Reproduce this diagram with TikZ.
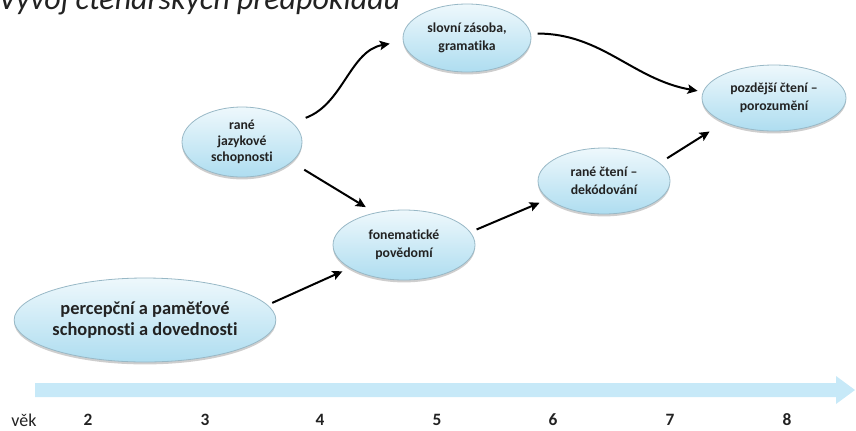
\documentclass[tikz,border=0pt]{standalone}
\usepackage{fontspec}
\setmainfont{Carlito}[Ligatures=NoCommon]
\usetikzlibrary{shapes.geometric,shadows,arrows.meta}
\definecolor{bubtop}{HTML}{EEF8FC}
\definecolor{bubbot}{HTML}{AEDDF0}
\definecolor{bubrim}{HTML}{98B8C6}
\definecolor{txt}{HTML}{222222}
\definecolor{axisc}{HTML}{C7E9F8}
\begin{document}
\begin{tikzpicture}[x=0.75pt,y=0.75pt,
  bub/.style={ellipse, draw=bubrim, line width=0.6pt, top color=bubtop, bottom color=bubbot,
    text=txt, align=center, inner sep=0pt,
    font=\bfseries\fontsize{10.3}{13.5}\selectfont,
    drop shadow={shadow xshift=0pt, shadow yshift=-1.8pt, opacity=0.35, fill=black!55}},
  conn/.style={-{Stealth[length=7.5pt,width=7pt,inset=1.5pt]}, line width=1.5pt, black},
  agelbl/.style={font=\bfseries\fontsize{13}{15}\selectfont, text=txt}]
\useasboundingbox (0,0) rectangle (856,-430);

% title (cut at the top edge)
\node[anchor=base west, inner sep=0pt, font=\itshape\fontsize{24}{28}\selectfont, text=txt] (title) at (-2,-9) {Vývoj čtenářských předpokladů};

% axis arrow
\fill[axisc] (35,-383) -- (836,-383) -- (836,-376) -- (855,-390) -- (836,-404) -- (836,-397) -- (35,-397) -- cycle;

% bubbles
\node[bub, minimum width=195pt, minimum height=63pt, font=\bfseries\fontsize{13.8}{15.75}\selectfont] (perc) at (145,-320) {percepční a paměťové\\schopnosti a dovednosti};
\node[bub, minimum width=90pt, minimum height=52.5pt, font=\bfseries\fontsize{10.3}{12}\selectfont] (jaz) at (242,-142) {rané\\jazykové\\schopnosti};
\node[bub, minimum width=96pt, minimum height=51pt] (slov) at (467,-38) {slovní zásoba,\\gramatika};
\node[bub, minimum width=108pt, minimum height=49.5pt] (pozd) at (774,-98) {pozdější čtení --\\porozumění};
\node[bub, minimum width=99pt, minimum height=49.5pt] (cteni) at (604,-181) {rané čtení --\\dekódování};
\node[bub, minimum width=106.5pt, minimum height=52.5pt] (fon) at (404,-245) {fonematické\\povědomí};

% connectors
\draw[conn, shorten <=3.75pt, shorten >=6pt] (perc.7.7) -- (fon.203.1);
\draw[conn, shorten <=11pt, shorten >=8pt] (jaz.-22.4) -- (fon.132);
\draw[conn, shorten <=10.5pt, shorten >=10pt] (jaz.21.6) to[out=20,in=190] (slov.183.7);
\draw[conn, shorten <=5pt, shorten >=4pt] (slov.4.9) to[out=0,in=170] (pozd.175.5);
\draw[conn, shorten <=5pt, shorten >=7pt] (fon.11.8) -- (cteni.198.2);
\draw[conn, shorten <=6.5pt, shorten >=13pt] (cteni.18.4) -- (pozd.206.6);

% age labels
\node[font=\fontsize{13.5}{15}\selectfont, text=txt] (vek) at (24,-420) {věk};
\node[agelbl] (a2) at (88,-420) {2};
\node[agelbl] (a3) at (205,-420) {3};
\node[agelbl] (a4) at (320,-420) {4};
\node[agelbl] (a5) at (437,-420) {5};
\node[agelbl] (a6) at (553,-420) {6};
\node[agelbl] (a7) at (670,-420) {7};
\node[agelbl] (a8) at (787,-420) {8};
\end{tikzpicture}
\end{document}
